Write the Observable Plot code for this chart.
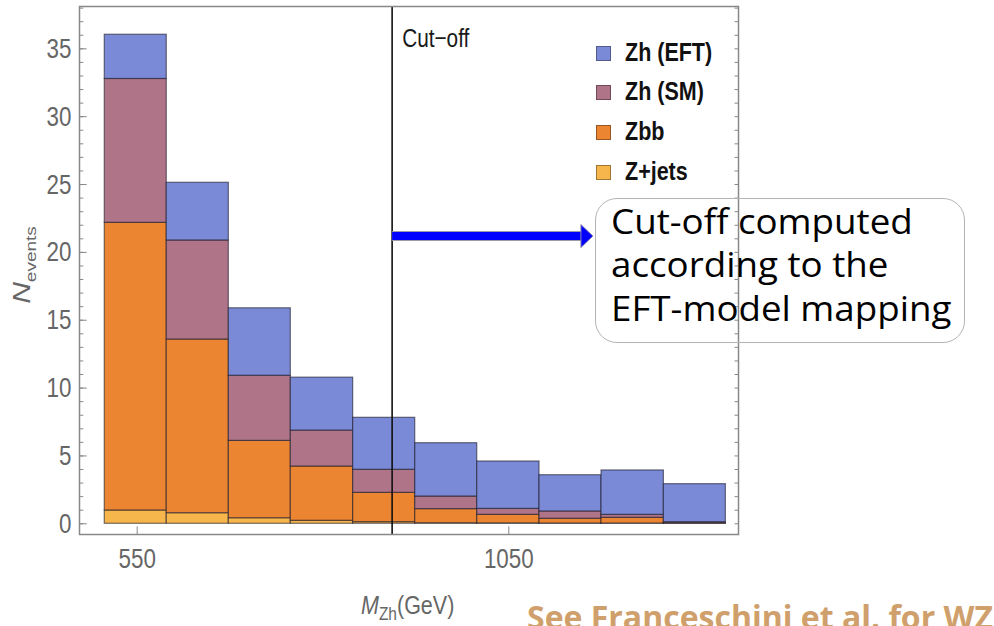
<!DOCTYPE html>
<html><head><meta charset="utf-8">
<script src="https://cdn.jsdelivr.net/npm/d3@7"></script>
<script src="https://cdn.jsdelivr.net/npm/@observablehq/plot@0.6"></script>
<style>
html,body{margin:0;padding:0;background:#fff;}
#wrap{position:relative;width:994px;height:626px;overflow:hidden;background:#fff;}
#wrap svg{position:absolute;left:0;top:0;}
.ov{position:absolute;white-space:nowrap;}
.narrow{font-family:"Liberation Sans",Arial,sans-serif;}
.leg{position:absolute;left:596px;height:40px;width:200px;}
.leg .sw{position:absolute;left:0;width:13px;height:13px;border:1px solid rgba(0,0,0,0.35);}
.leg .tx{position:absolute;left:29px;font-weight:bold;font-size:25px;color:#111;line-height:26px;white-space:nowrap;transform:scaleX(0.86);transform-origin:left center;}
</style></head><body><div id="wrap"></div><script>
// ---- data ----
const binEdges = [506.4, 589.8, 673.3, 756.7, 840.6, 924.1, 1007.5, 1091.3, 1174.7, 1258.6, 1342.0];
const seriesNames = ["Z+jets", "Zbb", "Zh (SM)", "Zh (EFT)"];
const zjets = [0.98, 0.78, 0.41, 0.22, 0.12, 0.04, 0.03, 0.02, 0.02, 0.01];
const zbb   = [21.2, 12.8, 5.7, 4.0, 2.16, 1.04, 0.63, 0.35, 0.42, 0.04];
const zhSM  = [10.6, 7.3, 4.8, 2.65, 1.7, 0.93, 0.44, 0.54, 0.22, 0.07];
const zhEFT = [3.26, 4.25, 4.97, 3.9, 3.83, 3.93, 3.49, 2.67, 3.27, 2.8];
const colors = {"Z+jets": "#f7b64b", "Zbb": "#ec8532", "Zh (SM)": "#b07488", "Zh (EFT)": "#7b8ad6"};
const yTicks = [0, 5, 10, 15, 20, 25, 30, 35];
const xTicks = [550, 1050];
const cutoff = 893;
const arrowEnd = 1147;
const arrowY = 21.2;
const legendOrder = ["Zh (EFT)", "Zh (SM)", "Zbb", "Z+jets"];

const seriesValues = [zjets, zbb, zhSM, zhEFT];
const rows = [];
binEdges.slice(0, -1).forEach((x1, i) => {
  const x2 = binEdges[i + 1];
  seriesNames.forEach((s, k) => rows.push({x1, x2, series: s, value: seriesValues[k][i]}));
});

const arrowHead = {draw(ctx) { ctx.moveTo(-6, -11.5); ctx.lineTo(6, 0); ctx.lineTo(-6, 11.5); ctx.closePath(); }};

const chart = Plot.plot({
  width: 994, height: 626,
  marginLeft: 79, marginRight: 256, marginTop: 6, marginBottom: 92,
  x: {domain: [472.4, 1359]},
  y: {domain: [-0.79, 38.12]},
  style: {fontFamily: '"Liberation Sans",Arial,sans-serif', fontSize: "27px", color: "#666", background: "white"},
  marks: [
    Plot.rectY(rows, Plot.stackY({x1: "x1", x2: "x2", y: "value", z: "series",
      fill: d => colors[d.series], stroke: "#1a1a2a", strokeOpacity: 0.6, strokeWidth: 1.2})),
    Plot.ruleX([cutoff], {stroke: "#111", strokeWidth: 1.6}),
    Plot.link([{x1: cutoff, x2: arrowEnd, y: arrowY}], {x1: "x1", x2: "x2", y1: "y", y2: "y", stroke: "#9a9aa8", strokeWidth: 10}),
    Plot.link([{x1: cutoff, x2: arrowEnd, y: arrowY}], {x1: "x1", x2: "x2", y1: "y", y2: "y", stroke: "#0000ff", strokeWidth: 8}),
    Plot.dot([{x: arrowEnd, y: arrowY}], {x: "x", y: "y", symbol: arrowHead, fill: "#0000ff", stroke: "#8888aa", strokeWidth: 1, r: 10, dx: 6}),
    Plot.text(["Cut\u2212off"], {x: cutoff, frameAnchor: "top", textAnchor: "start", lineAnchor: "middle", dx: 10, dy: 32, fontSize: 26, fill: "#1a1a1a"}),
    Plot.frame({stroke: "#888", strokeWidth: 1.5}),
    Plot.axisY({ticks: d3.range(0, 39), tickSize: -4.3, text: null, label: null, stroke: "#888"}),
    Plot.axisY({ticks: yTicks, tickSize: -7.7, text: null, label: null, stroke: "#888"}),
    Plot.axisY({ticks: yTicks, tickSize: 0, tickPadding: 8, label: null, fontSize: 28, fill: "#666"}),
    Plot.axisY({anchor: "right", ticks: d3.range(0, 39), tickSize: -4.5, text: null, label: null, stroke: "#888"}),
    Plot.axisX({ticks: xTicks, tickSize: -7.7, text: null, label: null, stroke: "#888"}),
    Plot.axisX({ticks: xTicks, tickSize: 0, tickPadding: 14, tickFormat: d => String(d), label: null, fontSize: 28, fill: "#666"})
  ]
});
const wrap = document.getElementById("wrap");
wrap.appendChild(chart);

// condense the Mathematica-style SVG texts horizontally around their anchor
chart.querySelectorAll("text").forEach(t => {
  const tr = t.getAttribute("transform") || "";
  const xs = t.getAttribute("x");
  let extra = "";
  if (xs !== null && /^-?[\d.]+$/.test(xs)) { extra += ` translate(${xs},0)`; t.removeAttribute("x"); }
  t.setAttribute("transform", `${tr}${extra} scale(0.8,1)`);
});

// y label
const yl = document.createElement("div");
yl.className = "ov narrow";
yl.style.cssText = "left:22px;top:265px;transform:translate(-50%,-50%) rotate(-90deg) scaleY(0.8);font-size:30px;color:#666;";
yl.innerHTML = '<i>N</i><span style="font-size:19px;position:relative;top:7px;">events</span>';
wrap.appendChild(yl);

// x label
const xl = document.createElement("div");
xl.className = "ov narrow";
xl.style.cssText = "left:361px;top:591px;font-size:25px;color:#666;transform:scaleX(0.86);transform-origin:left top;";
xl.innerHTML = '<i>M</i><span style="font-size:18px;position:relative;top:6px;">Zh</span>(GeV)';
wrap.appendChild(xl);

// legend
const rowCenters = [53.3, 91.7, 132.3, 171.7];
legendOrder.forEach((s, i) => {
  const g = document.createElement("div");
  g.className = "leg narrow";
  g.style.top = (rowCenters[i] - 20) + "px";
  g.innerHTML = `<div class="sw" style="top:13px;background:${colors[s]}"></div><div class="tx" style="top:6px">${s}</div>`;
  wrap.appendChild(g);
});

// callout box
const box = document.createElement("div");
box.className = "ov";
box.style.cssText = "left:595px;top:198px;width:368px;height:143px;border:1.6px solid #b4b4b4;border-radius:22px;background:transparent;";
wrap.appendChild(box);
const txt = document.createElement("div");
txt.className = "ov";
txt.style.cssText = "left:611px;top:200px;font-family:'Open Sans',sans-serif;font-size:34px;line-height:43.3px;color:#000;transform:scaleX(1.08);transform-origin:left top;";
txt.innerHTML = "Cut-off computed<br>according to the<br>EFT-model mapping";
wrap.appendChild(txt);

// caption
const cap = document.createElement("div");
cap.className = "ov";
cap.style.cssText = "left:527px;top:597px;font-family:'Open Sans',sans-serif;font-weight:bold;font-size:32px;line-height:40px;color:#d0a06c;";
cap.textContent = "See Franceschini et al. for WZ";
wrap.appendChild(cap);
</script></body></html>
